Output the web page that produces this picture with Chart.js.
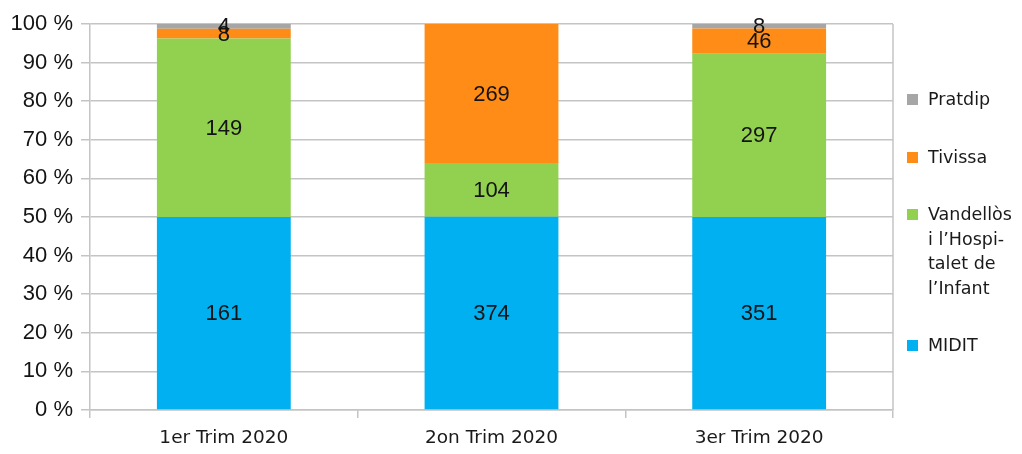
<!DOCTYPE html>
<html>
<head>
<meta charset="utf-8">
<script src="https://cdn.jsdelivr.net/npm/chart.js@4.4.1/dist/chart.umd.min.js"></script>
<style>
  html, body { margin: 0; padding: 0; background: #fff; }
  #wrap { position: relative; width: 1022px; height: 454px; }
  #legend {
    position: absolute; left: 907px; top: 87px;
    display: flex; flex-direction: column; gap: 33px;
    font-family: "DejaVu Sans", sans-serif; font-size: 17.5px; line-height: 24.5px; color: #1a1a1a;
  }
  .item { display: flex; align-items: flex-start; }
  .box { width: 11px; height: 11px; margin-top: 7px; margin-right: 10px; flex: none; }
</style>
</head>
<body>
<div id="wrap">
  <canvas id="chart" width="1022" height="454"></canvas>
  <div id="legend"></div>
</div>
<script>
// ---------- DATA ----------
const categories = ["1er Trim 2020", "2on Trim 2020", "3er Trim 2020"];
const midit = [161, 374, 351];
const vandellos = [149, 104, 297];
const tivissa = [8, 269, 46];
const pratdip = [4, 0, 8];
const yTicks = [0, 10, 20, 30, 40, 50, 60, 70, 80, 90, 100];

const series = [
  { name: ["MIDIT"], values: midit, color: "#00b0f0" },
  { name: ["Vandellòs", "i l’Hospi-", "talet de", "l’Infant"], values: vandellos, color: "#92d050" },
  { name: ["Tivissa"], values: tivissa, color: "#ff8c16" },
  { name: ["Pratdip"], values: pratdip, color: "#a6a6a6" }
];

// totals per category, to show each stack as 100 %
const totals = categories.map((c, i) => series.reduce((s, d) => s + d.values[i], 0));

const datasets = series.map(s => ({
  label: s.name.join(" "),
  raw: s.values,
  data: s.values.map((v, i) => v / totals[i] * 100),
  backgroundColor: s.color,
  borderWidth: 0,
  categoryPercentage: 1,
  barPercentage: 0.5
}));

// value labels in the middle of each segment
const valueLabels = {
  id: "valueLabels",
  afterDatasetsDraw(chart) {
    const ctx = chart.ctx;
    ctx.save();
    ctx.font = "22px 'Liberation Sans', Arial, sans-serif";
    ctx.fillStyle = "#141414";
    ctx.textAlign = "center";
    ctx.textBaseline = "middle";
    chart.data.datasets.forEach((ds, di) => {
      chart.getDatasetMeta(di).data.forEach((bar, i) => {
        if (!ds.raw[i]) return;
        const mid = (bar.y + bar.base) / 2;
        ctx.fillText(ds.raw[i], bar.x, mid + 1);
      });
    });
    ctx.restore();
  }
};

// right border of the plot area
const plotBorder = {
  id: "plotBorder",
  afterDraw(chart) {
    const a = chart.chartArea, ctx = chart.ctx;
    ctx.save();
    ctx.strokeStyle = "#c4c4c4";
    ctx.lineWidth = 1.5;
    ctx.beginPath();
    ctx.moveTo(a.right, a.top);
    ctx.lineTo(a.right, a.bottom);
    ctx.stroke();
    ctx.restore();
  }
};

new Chart(document.getElementById("chart"), {
  type: "bar",
  data: { labels: categories, datasets },
  options: {
    responsive: false,
    animation: false,
    layout: { padding: { top: 24, right: 129, left: 0, bottom: 0 } },
    plugins: {
      legend: { display: false },
      tooltip: { enabled: false }
    },
    scales: {
      x: {
        stacked: true,
        grid: { offset: true, drawOnChartArea: false, color: "#c4c4c4", lineWidth: 1.5, tickLength: 8 },
        border: { color: "#c4c4c4", width: 1.5 },
        ticks: {
          color: "#1a1a1a",
          font: { family: "'DejaVu Sans', sans-serif", size: 18.5 },
          padding: 9
        },
        afterFit(scale) { scale.height = 44; }
      },
      y: {
        stacked: true,
        min: 0,
        max: 100,
        afterBuildTicks(scale) { scale.ticks = yTicks.map(v => ({ value: v })); },
        grid: { color: "#c4c4c4", lineWidth: 1.5, tickLength: 9 },
        border: { color: "#c4c4c4", width: 1.5 },
        ticks: {
          color: "#141414",
          font: { family: "'Liberation Sans', Arial, sans-serif", size: 22 },
          padding: 8,
          callback: v => v + " %"
        },
        afterFit(scale) { scale.width = 90; }
      }
    }
  },
  plugins: [valueLabels, plotBorder]
});

// legend, top entry is the top of the stack
const legend = document.getElementById("legend");
series.slice().reverse().forEach(s => {
  const item = document.createElement("div");
  item.className = "item";
  item.innerHTML = `<span class="box" style="background:${s.color}"></span><span>${s.name.join("<br>")}</span>`;
  legend.appendChild(item);
});
</script>
</body>
</html>
